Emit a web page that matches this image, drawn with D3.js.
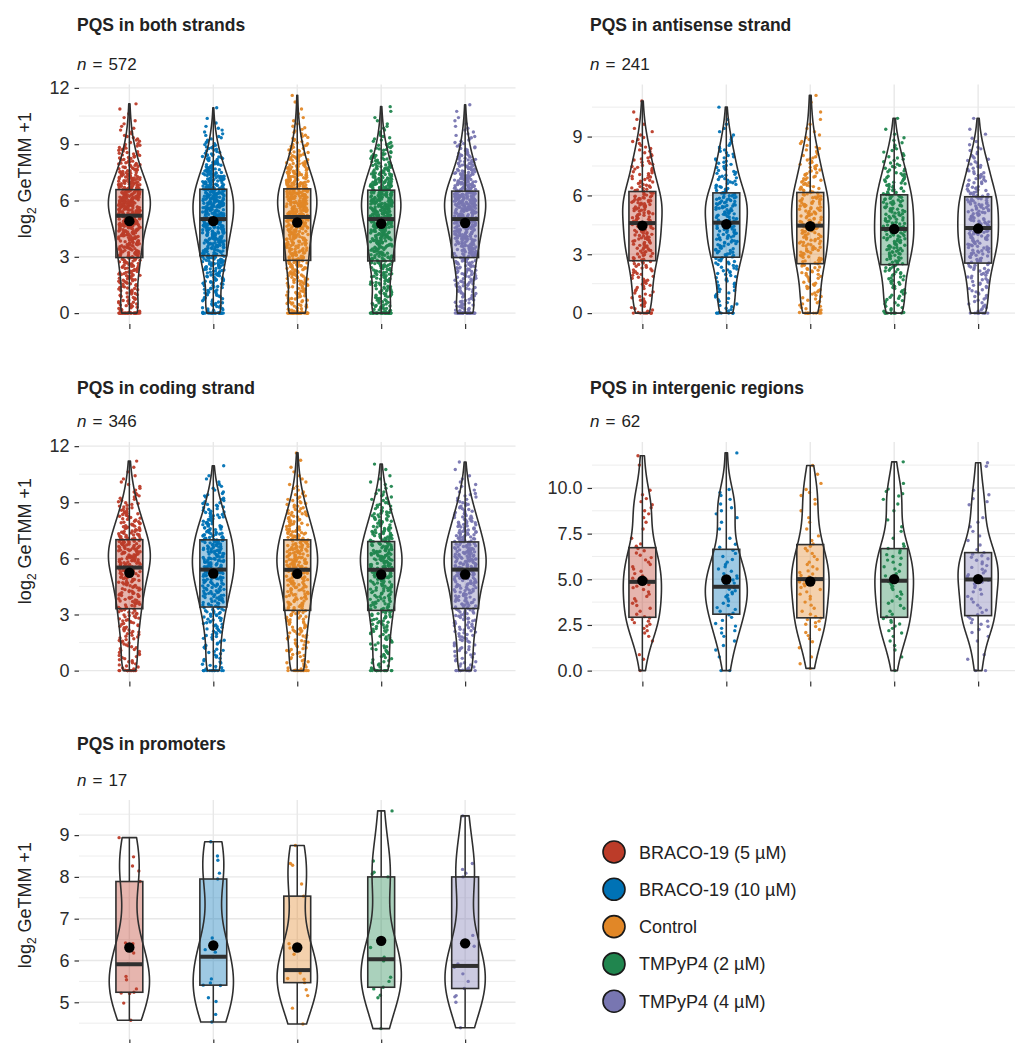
<!DOCTYPE html>
<html>
<head>
<meta charset="utf-8">
<script src="https://cdn.jsdelivr.net/npm/d3@7"></script>
<style>
  body { margin: 0; background: #fff; }
  svg text { font-family: "Liberation Sans", Arial, Helvetica, sans-serif; }
</style>
</head>
<body>
<svg id="fig" width="1015" height="1043"></svg>
<script>
// ---- treatments and palette ----
const treatments = ["BRACO-19 (5 µM)", "BRACO-19 (10 µM)", "Control", "TMPyP4 (2 µM)", "TMPyP4 (4 µM)"];
const colors = ["#BC3C29", "#0072B5", "#E18727", "#20854E", "#7876B1"];

// ---- panel labels ----
const panelTitles = ["PQS in both strands", "PQS in antisense strand", "PQS in coding strand",
                     "PQS in intergenic regions", "PQS in promoters"];
const panelN = [572, 241, 346, 62, 17];
const tickBoth = [0, 3, 6, 9, 12];
const tickAnti = [0, 3, 6, 9];
const tickCoding = [0, 3, 6, 9, 12];
const tickInter = [0, 2.5, 5, 7.5, 10];
const tickProm = [5, 6, 7, 8, 9];

// ---- expression per PQS, log2(GeTMM+1) ----
// large sets: number of exact zeros, then counts in 0.5-wide bins from 0 upward;
// the last bin ends at the group's maximum
const zerosBoth = [28, 22, 30, 30, 28];
const binsBoth = [
  [17,16,17,19,22,25, 27,30,33,37, 48,52,51, 42,33,25,18,13,8,5,3,2,1],
  [15,14,16,19,23,28, 31,35,38,44, 46,50,45, 41,33,26,18,12,8,5,2,1],
  [18,17,18,20,23,27, 27,29,31,35, 45,48,47, 42,34,26,19,14,9,6,3,2,1,1],
  [19,17,18,20,23,27, 28,31,34,38, 46,49,45, 40,33,25,18,13,8,5,3,2],
  [17,16,17,19,22,25, 29,33,36,40, 48,50,49, 40,32,24,17,12,8,5,3,1,1]
];
const maxBoth = [11.15, 10.94, 11.6, 11.0, 11.1];

const zerosAnti = [8, 8, 10, 10, 9];
const binsAnti = [
  [8,8,9,10,11, 13, 17,17,17, 17,19,21, 15,12,11,9,7,5,3,2,1,1],
  [7,7,8,9,11, 13, 17,18,18, 18,21,22, 15,12,10,9,7,5,3,2,1],
  [8,8,9,10,12, 14, 16,17,17, 16,18,19, 15,12,11,9,7,5,3,2,1,1,1],
  [8,9,9,11,12, 14, 18,18,19, 17,18,18, 15,13,11,8,6,4,2,1],
  [8,8,9,11,12, 14, 18,19,19, 18,19,19, 15,12,11,8,6,3,2,1]
];
const maxAnti = [10.81, 10.5, 11.1, 9.93, 9.93];

const zerosCoding = [12, 12, 12, 14, 12];
const binsCoding = [
  [9,9,10,11,13,14,15, 17,19,21,23, 30,29,27, 23,19,15,11,8,5,3,2,1],
  [8,8,9,10,12,13, 16, 19,21,24,27, 29,27,25, 24,19,15,11,8,5,3,1],
  [9,9,10,12,13,15, 16, 17,19,20, 28, 28,27,25, 22,18,15,11,8,5,3,2,1,1],
  [9,9,10,11,13,14, 16, 17,19,20, 28, 29,28,25, 22,18,15,11,8,5,3,1,1],
  [9,8,10,11,13,14, 17, 18,19,21, 28, 30,28,24, 22,18,15,11,8,5,3,1,1]
];
const maxCoding = [11.2, 10.95, 11.64, 11.04, 11.15];

const zerosInter = [1, 2, 0, 1, 2];
const binsInter = [
  [0,2,0,2,4,6,3,4,4,6,4,4,4,4,1,1,2,3,3,2,0,0,1,1],
  [0,1,2,2,4,3,5,4,6,6,4,4,3,3,1,1,2,3,2,3,0,0,0,1],
  [2,1,1,3,3,6,3,3,4,5,6,4,3,4,2,1,2,1,2,3,1,1,1],
  [0,1,2,2,4,5,3,4,4,6,4,4,5,4,1,2,1,1,2,4,1,0,1],
  [0,2,0,2,3,6,4,3,4,5,5,5,6,2,2,2,2,0,3,2,0,0,2]
];
const maxInter = [11.76, 11.92, 11.23, 11.43, 11.38];

// promoters: individual values
const valuesProm = [
  [4.57,4.98,5.21,5.22,5.24,5.32,5.54,5.62,5.91,6.18,6.40,6.42,7.89,8.14,8.26,8.48,8.94],
  [4.53,4.71,5.02,5.11,5.40,5.41,5.46,5.56,6.09,6.20,6.26,6.54,7.95,8.09,8.40,8.50,8.84],
  [4.48,4.86,5.16,5.30,5.47,5.55,5.57,5.70,5.77,6.15,6.30,6.40,7.54,7.83,8.28,8.32,8.75],
  [4.37,5.11,5.17,5.32,5.36,5.50,5.60,5.99,6.03,6.08,6.31,6.53,8.00,8.07,8.11,8.38,9.58],
  [4.39,5.00,5.13,5.16,5.33,5.50,5.68,5.84,5.87,5.92,6.34,6.60,8.00,8.09,8.18,8.32,9.46]
];

// box summaries per group: [Q1, median, Q3, mean]
const boxBoth = [[2.96,5.19,6.58,4.90],[3.06,5.01,6.60,4.90],[2.81,5.12,6.62,4.83],[2.78,5.01,6.55,4.76],[2.96,5.01,6.50,4.80]];
const boxAnti = [[2.67,4.59,6.20,4.46],[2.85,4.61,6.13,4.53],[2.52,4.46,6.15,4.43],[2.47,4.29,6.03,4.29],[2.55,4.34,5.93,4.31]];
const boxCoding = [[3.31,5.51,7.00,5.23],[3.40,5.40,6.99,5.19],[3.22,5.39,6.99,5.17],[3.22,5.39,6.90,5.14],[3.32,5.40,6.88,5.14]];
const boxInter = [[2.92,4.86,6.73,4.92],[3.09,4.59,6.64,4.99],[2.89,5.01,6.90,4.88],[2.92,4.92,6.68,5.01],[3.01,4.99,6.46,5.01]];
const boxProm = [[5.24,5.91,7.89,6.31],[5.41,6.09,7.95,6.36],[5.47,5.77,7.54,6.31],[5.36,6.03,8.00,6.47],[5.33,5.87,8.00,6.41]];

// ---- helpers ----
// turn zero count + 0.5-wide bin counts into individual values
function fromBins(zeros, bins, max) {
  const out = [];
  for (let i = 0; i < zeros; i++) out.push(0);
  bins.forEach((k, i) => {
    const lo = i * 0.5;
    const last = i === bins.length - 1;
    const hi = last ? max : lo + 0.5;
    for (let j = 0; j < k; j++) {
      out.push(last ? lo + (j + 1) * (hi - lo) / k : lo + (j + 0.5) * (hi - lo) / k);
    }
  });
  return out;
}

// Gaussian kernel density, bw.nrd0, evaluated over the data range (trimmed violin)
function density(values) {
  const s = values.slice().sort(d3.ascending);
  const n = s.length;
  const sd = d3.deviation(s);
  const iqr = d3.quantileSorted(s, 0.75) - d3.quantileSorted(s, 0.25);
  let lo = Math.min(sd, iqr / 1.34);
  if (!(lo > 0)) lo = sd || 1;
  const bw = 0.9 * lo * Math.pow(n, -0.2);
  const a = s[0], b = s[n - 1];
  const norm = 1 / (n * bw * Math.sqrt(2 * Math.PI));
  return d3.range(256).map(i => {
    const g = a + (b - a) * i / 255;
    let sum = 0;
    for (const v of s) { const z = (g - v) / bw; sum += Math.exp(-0.5 * z * z); }
    return [g, sum * norm];
  });
}

// deterministic horizontal jitter in [0,1) from an integer hash of (point, group)
function jitterUnit(i, g) {
  let h = (i * 2654435761 + g * 40503 + 977) >>> 0;
  h ^= h >>> 15; h = Math.imul(h, 2246822507) >>> 0;
  h ^= h >>> 13; h = Math.imul(h, 3266489909) >>> 0;
  h ^= h >>> 16;
  return (h >>> 0) / 4294967296;
}

const panels = [
  { vals: zerosBoth.map((z, i) => fromBins(z, binsBoth[i], maxBoth[i])), box: boxBoth, ticks: tickBoth,
    fmt: d3.format("d"), x0: 79, top: 84.5, titleY: 31, nY: 70, ylab: 175, perViolin: false },
  { vals: zerosAnti.map((z, i) => fromBins(z, binsAnti[i], maxAnti[i])), box: boxAnti, ticks: tickAnti,
    fmt: d3.format("d"), x0: 592, top: 84.5, titleY: 31, nY: 70, ylab: null, perViolin: false },
  { vals: zerosCoding.map((z, i) => fromBins(z, binsCoding[i], maxCoding[i])), box: boxCoding, ticks: tickCoding,
    fmt: d3.format("d"), x0: 79, top: 442, titleY: 394, nY: 427, ylab: 541, perViolin: false },
  { vals: zerosInter.map((z, i) => fromBins(z, binsInter[i], maxInter[i])), box: boxInter, ticks: tickInter,
    fmt: d3.format(".1f"), x0: 592, top: 442, titleY: 394, nY: 427, ylab: null, perViolin: false },
  { vals: valuesProm, box: boxProm, ticks: tickProm,
    fmt: d3.format("d"), x0: 79, top: 800, titleY: 750, nY: 786, ylab: 905, perViolin: true }
];

const PW = 436.5, PH = 239.5;
const svg = d3.select("#fig");
const ink = "#2f2f2f";

panels.forEach((p, pi) => {
  const g = svg.append("g");
  const x = d3.scalePoint().domain(treatments).range([p.x0, p.x0 + PW]).padding(0.6);
  const all = p.vals.flat();
  const lo = d3.min(all), hi = d3.max(all), ext = (hi - lo) * 0.05;
  const y = d3.scaleLinear().domain([lo - ext, hi + ext]).range([p.top + PH, p.top]);
  const step = x.step();

  // grid
  const t0 = p.ticks[0], dt = p.ticks[1] - p.ticks[0];
  const minor = d3.range(-1, p.ticks.length + 1).map(i => t0 + (i + 0.5) * dt)
    .filter(v => v >= y.domain()[0] && v <= y.domain()[1]);
  g.append("g").selectAll("line").data(minor).join("line")
    .attr("x1", p.x0).attr("x2", p.x0 + PW).attr("y1", d => y(d)).attr("y2", d => y(d))
    .attr("stroke", "#EBEBEB").attr("stroke-width", 0.9);
  g.append("g").selectAll("line").data(p.ticks).join("line")
    .attr("x1", p.x0).attr("x2", p.x0 + PW).attr("y1", d => y(d)).attr("y2", d => y(d))
    .attr("stroke", "#E8E8E8").attr("stroke-width", 1.4);
  g.append("g").selectAll("line").data(treatments).join("line")
    .attr("x1", d => x(d)).attr("x2", d => x(d)).attr("y1", p.top).attr("y2", p.top + PH)
    .attr("stroke", "#E8E8E8").attr("stroke-width", 1.4);

  // axes
  const ya = g.append("g").attr("transform", `translate(${p.x0},0)`)
    .call(d3.axisLeft(y).tickValues(p.ticks).tickFormat(p.fmt).tickSize(4.5).tickPadding(5));
  ya.select(".domain").remove();
  ya.selectAll("line").attr("stroke", ink).attr("stroke-width", 1.2);
  ya.selectAll("text").attr("fill", "#2b2b2b").style("font-size", "18px");
  const xa = g.append("g").attr("transform", `translate(0,${p.top + PH})`)
    .call(d3.axisBottom(x).tickSize(5).tickFormat(""));
  xa.select(".domain").remove();
  xa.selectAll("line").attr("stroke", ink).attr("stroke-width", 1.2);

  // labels
  g.append("text").attr("x", p.x0 - 2).attr("y", p.titleY).text(panelTitles[pi])
    .attr("fill", "#222").style("font-size", "17.5px").style("font-weight", "bold");
  const nt = g.append("text").attr("x", p.x0 - 2).attr("y", p.nY).attr("fill", "#222").style("font-size", "17px");
  nt.append("tspan").style("font-style", "italic").text("n");
  nt.append("tspan").attr("dx", 6).text("=");
  nt.append("tspan").attr("dx", 6).text(panelN[pi]);
  if (p.ylab !== null) {
    const yl = g.append("text").attr("transform", `translate(31,${p.ylab}) rotate(-90)`)
      .attr("text-anchor", "middle").attr("fill", "#222").style("font-size", "18px");
    yl.append("tspan").text("log");
    yl.append("tspan").attr("dy", 5).style("font-size", "12px").text("2");
    yl.append("tspan").attr("dy", -5).text(" GeTMM +1");
  }

  // violins: shared density scale in the panel, or each violin to full width
  const dens = p.vals.map(density);
  const panelMax = d3.max(dens, d => d3.max(d, e => e[1]));
  const hw = (p.perViolin ? 0.24 : 0.25) * step;
  const boxHalf = 0.16 * step;
  const jit = 0.13 * step;

  p.vals.forEach((vals, gi) => {
    const cx = x(treatments[gi]);
    const [q1, med, q3, mean] = p.box[gi];
    const iqr = q3 - q1;
    const wLo = d3.min(vals.filter(v => v >= q1 - 1.5 * iqr));
    const wHi = d3.max(vals.filter(v => v <= q3 + 1.5 * iqr));
    const dmax = p.perViolin ? d3.max(dens[gi], e => e[1]) : panelMax;
    const grp = g.append("g");

    // box fill
    grp.append("rect").attr("x", cx - boxHalf).attr("width", 2 * boxHalf)
      .attr("y", y(q3)).attr("height", y(q1) - y(q3))
      .attr("fill", colors[gi]).attr("fill-opacity", 0.38);

    // jittered points
    grp.append("g").selectAll("circle").data(vals).join("circle")
      .attr("cx", (d, i) => cx + (jitterUnit(i, gi + 7 * pi) - 0.5) * 2 * jit)
      .attr("cy", d => y(d)).attr("r", 1.7)
      .attr("fill", colors[gi]).attr("fill-opacity", 0.95);

    // violin outline
    const area = d3.area()
      .y(d => y(d[0]))
      .x0(d => cx - d[1] / dmax * hw)
      .x1(d => cx + d[1] / dmax * hw);
    grp.append("path").attr("d", area(dens[gi])).attr("fill", "none")
      .attr("stroke", ink).attr("stroke-width", 1.6).attr("stroke-linejoin", "round");

    // whiskers, box, median, mean
    grp.append("line").attr("x1", cx).attr("x2", cx).attr("y1", y(q3)).attr("y2", y(wHi))
      .attr("stroke", ink).attr("stroke-width", 1.5);
    grp.append("line").attr("x1", cx).attr("x2", cx).attr("y1", y(q1)).attr("y2", y(wLo))
      .attr("stroke", ink).attr("stroke-width", 1.5);
    grp.append("rect").attr("x", cx - boxHalf).attr("width", 2 * boxHalf)
      .attr("y", y(q3)).attr("height", y(q1) - y(q3))
      .attr("fill", "none").attr("stroke", ink).attr("stroke-width", 1.6);
    grp.append("line").attr("x1", cx - boxHalf).attr("x2", cx + boxHalf)
      .attr("y1", y(med)).attr("y2", y(med)).attr("stroke", ink).attr("stroke-width", 4);
    grp.append("circle").attr("cx", cx).attr("cy", y(mean)).attr("r", 5.2).attr("fill", "#000");
  });
});

// legend
const lg = svg.append("g").attr("transform", "translate(614,852)");
const item = lg.selectAll("g").data(treatments).join("g")
  .attr("transform", (d, i) => `translate(0,${i * 37.3})`);
item.append("circle").attr("r", 11).attr("fill", (d, i) => colors[i])
  .attr("stroke", "#1a1a1a").attr("stroke-width", 1.6);
item.append("text").attr("x", 25).attr("y", 6.5).text(d => d)
  .attr("fill", "#222").style("font-size", "18px");
</script>
</body>
</html>
